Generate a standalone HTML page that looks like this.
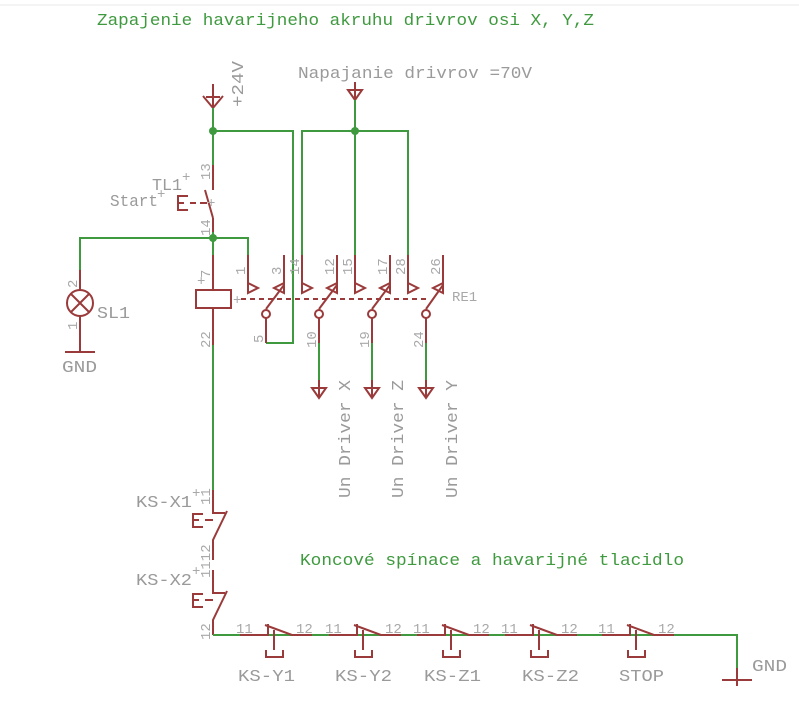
<!DOCTYPE html>
<html><head><meta charset="utf-8"><style>
html,body{margin:0;padding:0;background:#fff;}
svg{display:block;}
text{font-family:"Liberation Mono","DejaVu Sans Mono",monospace;}
.g{stroke:#3f9a3f;stroke-width:2;fill:none;}
.r{stroke:#9b3a3a;stroke-width:2;fill:none;}
.gt{fill:#a8a8a8;font-size:14px;}
.lt{fill:#9a9a9a;font-size:17px;}
.grn{fill:#3f9a3f;font-size:17px;}
</style></head><body>
<svg width="799" height="706" viewBox="0 0 799 706" xmlns="http://www.w3.org/2000/svg">
<line x1="0" y1="5" x2="799" y2="5" stroke="#e8e8e8" stroke-width="1"/>
<text x="97" y="25" class="grn" textLength="497" lengthAdjust="spacingAndGlyphs">Zapajenie havarijneho akruhu drivrov osi X, Y,Z</text>
<text x="298" y="78" class="lt" textLength="234" lengthAdjust="spacingAndGlyphs">Napajanie drivrov =70V</text>

<path class="r" d="M213 84 V108 M203 96 L213 108 L223 96 M206 97 L220 97"/>
<text transform="translate(243,107) rotate(-90)" class="lt" textLength="46" lengthAdjust="spacingAndGlyphs">+24V</text>
<path class="r" d="M355 82 V100 M348 90 L355 100 L362 90 Z"/>

<path class="g" d="M213 108 V165 M213 131 H293 V343 H266 M302 288 V131 H408 V288 M355 100 V288"/>
<circle cx="213" cy="131" r="4" fill="#3f9a3f"/>
<circle cx="355" cy="131" r="4" fill="#3f9a3f"/>

<path class="r" d="M213 165 V190 M205 190 L213 218 M213 218 V232"/>
<path class="r" d="M188 196 H178 V210 H188 M178 203 H184 M190 203 H196 M200 203 H207"/>
<text x="152" y="190" class="lt" textLength="30" lengthAdjust="spacingAndGlyphs">TL1</text><text x="182" y="181" class="gt" font-size="11">+</text>
<text x="110" y="206" class="lt" textLength="48" lengthAdjust="spacingAndGlyphs">Start</text><text x="157" y="198" class="gt" font-size="11">+</text>
<text x="207" y="207" class="gt">+</text>
<text transform="translate(210,180) rotate(-90)" class="gt">13</text>
<text transform="translate(210,236) rotate(-90)" class="gt">14</text>

<path class="g" d="M213 232 V255 M80 270 V238 H248 V255"/>
<circle cx="213" cy="238" r="4" fill="#3f9a3f"/>

<path class="r" d="M80 270 V290 M80 316 V340 M65 352 H95 M80 340 V352"/>
<circle cx="80" cy="303" r="13" class="r"/>
<path class="r" d="M71 294 L89 312 M89 294 L71 312"/>
<text x="97" y="318" class="lt" textLength="33" lengthAdjust="spacingAndGlyphs">SL1</text>
<text transform="translate(77,288) rotate(-90)" class="gt">2</text>
<text transform="translate(77,330) rotate(-90)" class="gt">1</text>
<text x="62" y="372" class="lt" textLength="35" lengthAdjust="spacingAndGlyphs">GND</text>

<path class="r" d="M213 255 V290 M213 308 V345"/>
<rect x="196" y="290" width="35" height="18" class="r"/>
<text x="197" y="285" class="gt">+</text>
<text transform="translate(210,278) rotate(-90)" class="gt">7</text>
<text transform="translate(210,348) rotate(-90)" class="gt">22</text>
<text x="233" y="304" class="gt">+</text>
<line x1="241" y1="299" x2="430" y2="299" stroke="#9b3a3a" stroke-width="2" stroke-dasharray="5,4"/>
<text x="452" y="301" class="gt">RE1</text>
<path class="g" d="M213 345 V490"/>

<g class="r">
<path d="M248 255 V288 M248 283 L258 288 L248 293 Z"/>
<path d="M284 255 V288 M284 283 L274 288 L284 293 Z M266 309 L284 285"/>
<circle cx="266" cy="314" r="4"/><path d="M266 318 V343"/>
<path d="M302 255 V288 M302 283 L312 288 L302 293 Z"/>
<path d="M337 255 V288 M337 283 L327 288 L337 293 Z M319 309 L337 285"/>
<circle cx="319" cy="314" r="4"/><path d="M319 318 V343"/>
<path d="M355 255 V288 M355 283 L365 288 L355 293 Z"/>
<path d="M390 255 V288 M390 283 L380 288 L390 293 Z M372 309 L390 285"/>
<circle cx="372" cy="314" r="4"/><path d="M372 318 V343"/>
<path d="M408 255 V288 M408 283 L418 288 L408 293 Z"/>
<path d="M443 255 V288 M443 283 L433 288 L443 293 Z M426 309 L443 285"/>
<circle cx="426" cy="314" r="4"/><path d="M426 318 V343"/>
</g>
<g class="gt">
<text transform="translate(245,275) rotate(-90)">1</text>
<text transform="translate(281,275) rotate(-90)">3</text>
<text transform="translate(299,275) rotate(-90)">14</text>
<text transform="translate(334,275) rotate(-90)">12</text>
<text transform="translate(352,275) rotate(-90)">15</text>
<text transform="translate(387,275) rotate(-90)">17</text>
<text transform="translate(405,275) rotate(-90)">28</text>
<text transform="translate(440,275) rotate(-90)">26</text>
<text transform="translate(263,343) rotate(-90)">5</text>
<text transform="translate(316,348) rotate(-90)">10</text>
<text transform="translate(369,348) rotate(-90)">19</text>
<text transform="translate(423,348) rotate(-90)">24</text>
</g>
<path class="g" d="M319 343 V380 M372 343 V380 M426 343 V380"/>
<path class="r" d="M319 380 V398 M312 388 L319 398 L326 388 Z M372 380 V398 M365 388 L372 398 L379 388 Z M426 380 V398 M419 388 L426 398 L433 388 Z"/>
<text transform="translate(350,498) rotate(-90)" class="lt" textLength="118" lengthAdjust="spacingAndGlyphs">Un Driver X</text>
<text transform="translate(403,498) rotate(-90)" class="lt" textLength="118" lengthAdjust="spacingAndGlyphs">Un Driver Z</text>
<text transform="translate(457,498) rotate(-90)" class="lt" textLength="118" lengthAdjust="spacingAndGlyphs">Un Driver Y</text>

<path class="r" d="M213 490 V513 H225 M227 511 L213 540 V560 M213 570 V593 H225 M227 591 L213 620 V635"/>
<path class="r" d="M203 514 H193 V527 H203 M193 520 H199 M205 520 H213 M203 594 H193 V607 H203 M193 600 H199 M205 600 H213"/>
<text x="136" y="507" class="lt" textLength="56" lengthAdjust="spacingAndGlyphs">KS-X1</text><text x="192" y="497" class="gt" font-size="11">+</text>
<text x="136" y="585" class="lt" textLength="56" lengthAdjust="spacingAndGlyphs">KS-X2</text><text x="192" y="575" class="gt" font-size="11">+</text>
<text transform="translate(210,505) rotate(-90)" class="gt">11</text>
<text transform="translate(210,578) rotate(-90)" class="gt">1112</text>
<text transform="translate(210,640) rotate(-90)" class="gt">12</text>
<text x="300" y="565" class="grn" textLength="384" lengthAdjust="spacingAndGlyphs">Koncové spínace a havarijné tlacidlo</text>

<path class="g" d="M213 635 H737 V668"/>
<path class="r" d="M737 668 V686 M722 680 H752"/>
<text x="752" y="671" class="lt" textLength="35" lengthAdjust="spacingAndGlyphs">GND</text>

<g class="r">
<path d="M240 635 H268 V624 M265 625 L292 635 H312 M274 630 V650 M266 650 V657 H283 V650"/>
<path d="M329 635 H357 V624 M354 625 L381 635 H401 M363 630 V650 M355 650 V657 H372 V650"/>
<path d="M417 635 H445 V624 M442 625 L469 635 H489 M451 630 V650 M443 650 V657 H460 V650"/>
<path d="M505 635 H533 V624 M530 625 L557 635 H577 M539 630 V650 M531 650 V657 H548 V650"/>
<path d="M602 635 H630 V624 M627 625 L654 635 H674 M636 630 V650 M628 650 V657 H645 V650"/>
</g>
<g class="gt">
<text x="236" y="633">11</text><text x="296" y="633">12</text>
<text x="325" y="633">11</text><text x="385" y="633">12</text>
<text x="413" y="633">11</text><text x="473" y="633">12</text>
<text x="501" y="633">11</text><text x="561" y="633">12</text>
<text x="598" y="633">11</text><text x="658" y="633">12</text>
</g>
<g class="lt">
<text x="238" y="681" textLength="57" lengthAdjust="spacingAndGlyphs">KS-Y1</text>
<text x="335" y="681" textLength="57" lengthAdjust="spacingAndGlyphs">KS-Y2</text>
<text x="424" y="681" textLength="57" lengthAdjust="spacingAndGlyphs">KS-Z1</text>
<text x="522" y="681" textLength="57" lengthAdjust="spacingAndGlyphs">KS-Z2</text>
<text x="619" y="681" textLength="45" lengthAdjust="spacingAndGlyphs">STOP</text>
</g>
</svg>
</body></html>
